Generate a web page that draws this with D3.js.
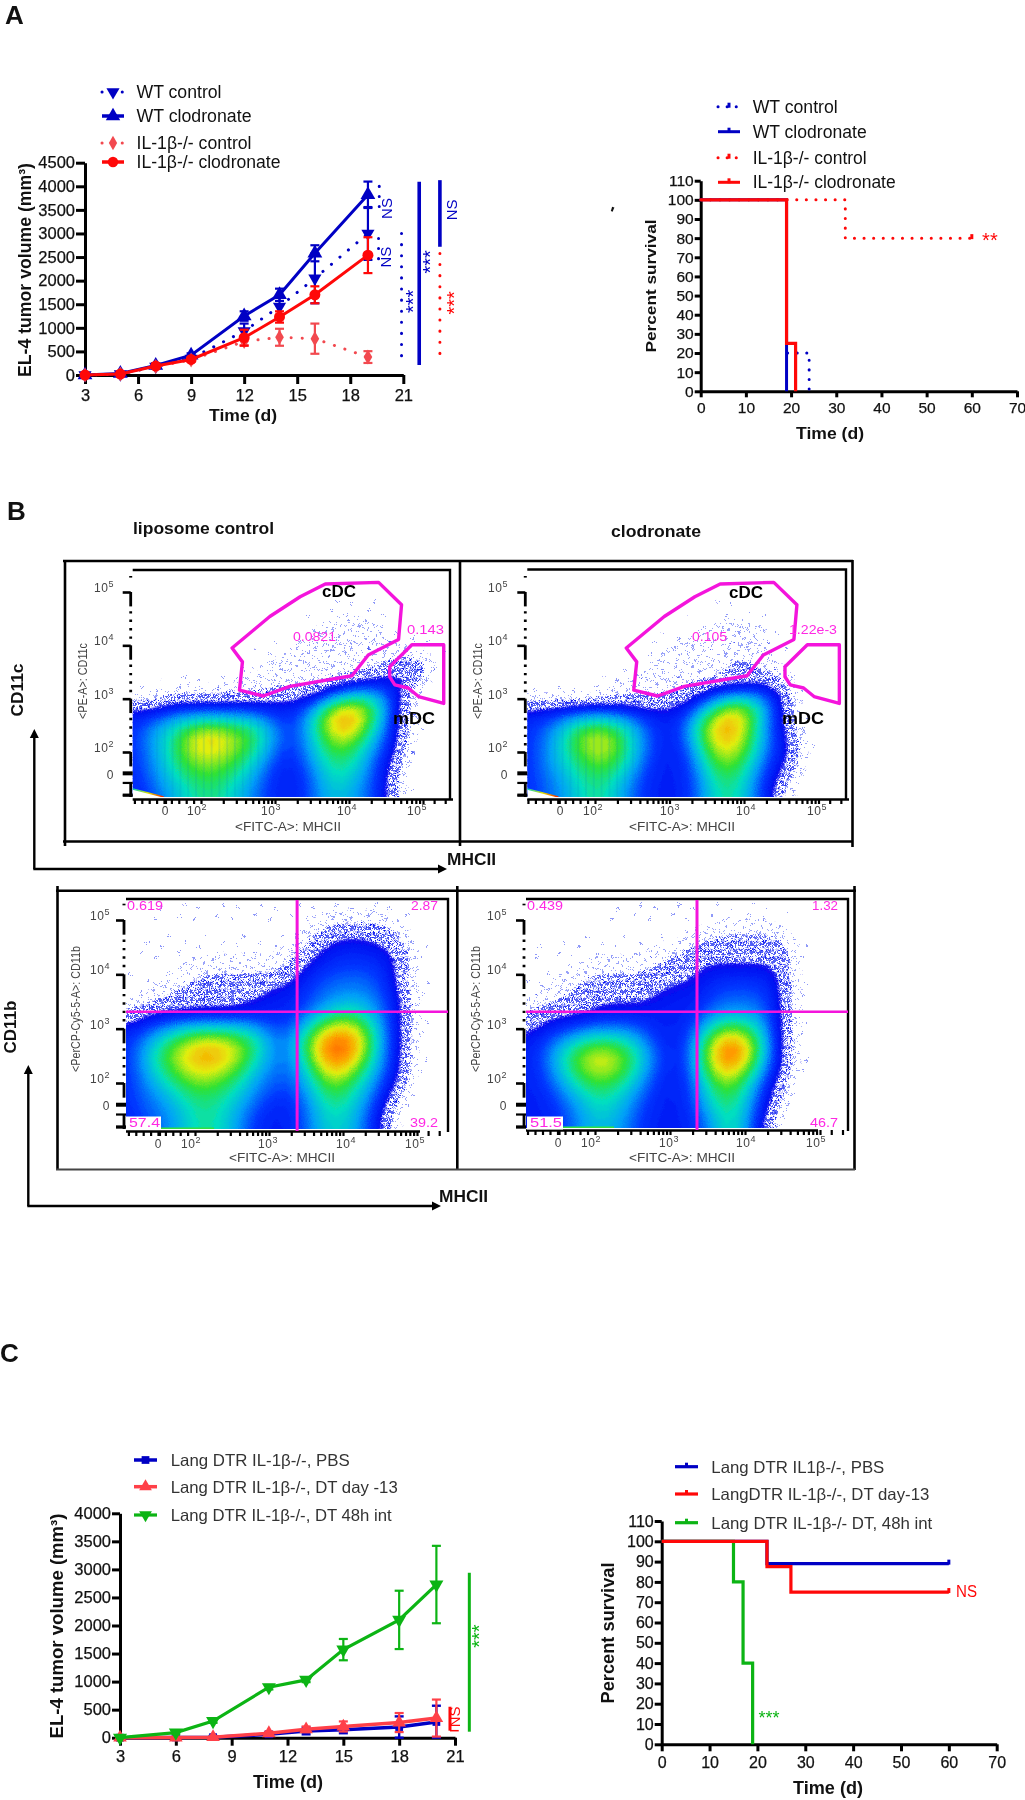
<!DOCTYPE html>
<html><head><meta charset="utf-8">
<script src="https://cdn.jsdelivr.net/npm/d3@7/dist/d3.min.js"></script>
<style>
html,body{margin:0;padding:0;background:#fff}
svg{display:block;font-family:"Liberation Sans",Arial,sans-serif;filter:blur(0.4px)}
text{fill:#111}
</style></head><body>
<svg id="fig" width="1025" height="1800"></svg>
<script>
/* ---------- Panel A: tumor growth ---------- */
const daysA=[3,5,7,9,12,14,16,19];
const wtControl=[0,20,180,350,930,1450,2050,3000];
const wtControlErr=[0,15,40,40,160,220,530,560];
const wtClodronate=[0,30,200,420,1250,1700,2580,3820];
const wtClodronateErr=[0,20,50,40,100,130,170,280];
const ilControl=[0,20,180,320,710,800,770,380];
const ilControlErr=[0,15,30,30,80,180,320,125];
const ilClodronate=[0,20,190,330,790,1230,1700,2540];
const ilClodronateErr=[0,15,40,40,170,120,180,380];
/* ---------- Panel A: survival ---------- */
const survWtControl=[[0,100],[19,100],[19,20],[24,20],[24,0]];
const survWtClodronate=[[0,100],[19,100],[19,25],[19,0]];
const survIlControl=[[0,100],[32,100],[32,80],[60,80]];
const survIlClodronate=[[0,100],[19,100],[19,25],[21,25],[21,0]];
/* ---------- Panel C: tumor growth ---------- */
const daysC=[3,6,8,11,13,15,18,20];
const langPbs=[0,5,10,60,120,140,190,280];
const langPbsErr=[0,10,20,40,60,60,190,290];
const langDay13=[0,3,10,80,150,200,270,350];
const langDay13Err=[0,10,15,30,50,90,170,330];
const langDt48=[0,90,295,900,1030,1570,2100,2730];
const langDt48Err=[0,20,30,40,40,190,520,690];
/* ---------- Panel C: survival ---------- */
const survLangPbs=[[0,100],[22,100],[22,89],[60,89]];
const survLangDay13=[[0,100],[22,100],[22,87.5],[27,87.5],[27,75],[60,75]];
const survLangDt48=[[0,100],[15,100],[15,80],[17,80],[17,40],[19,40],[19,0]];
/* ---------- tick lists ---------- */
const timeTicks=[3,6,9,12,15,18,21];
const volumeTicksA=d3.range(0,4501,500);
const volumeTicksC=d3.range(0,4001,500);
const survivalXTicks=d3.range(0,71,10);
const survivalYTicks=d3.range(0,111,10);
/* ---------- Panel B: flow-cytometry density levels
   . very sparse, 1 sparse, 2 dense dots, 3 navy, 4 blue, 5 azure, 6 cyan, 7 green, 8 yellow, 9 orange, a red */
const densityLiposomeCD11c=[
"0","0","0","0",
"00000000000000000001111111",
"000000000000000000111111111",
"000000000000000001111111111",
"000000000000000011111111111",
"0000000000000011111111111110011",
"000000000000111111111111111232100",
"000000000001111111111111113343100",
"000000000011111111111122233331",
"00011111111111111111233344321",
"11112222222222333334677876421",
"33333333333333333457899875321",
"344556666666654334679a9875321",
"34556778887776543467898764321",
"34556789988776543456787654321",
"34556788887765433456776644321",
"3445677777766543345666654331",
"3445667777665433334566654321",
"3445566676655433334566544321",
"3344556666554433334555544321",
"3344556666554433334555544321"];
const densityClodronateCD11c=[
"0","0","0","0",
"00000000000000000001111",
"0000000000000000011111111",
"00000000000000001111111111",
"00000000000000111111111111",
"00000000000011111111111111",
"000000000000111111112221110",
"000000000011111111112222111",
"000000000111111111111111221",
"0000000011111111122222233321",
"1111111111111122234567765321",
"3333333333333333345788865321",
"34445666665443334678a9864321",
"3445677877654333478998754321",
"34456788876543334678987653321",
"34456778876543333578887543321",
"3455667777654333356777654332",
"3445566776543333346777643321",
"3444566665543333345666543321",
"344455666544333334566654321",
"344455666544333334566654321"];
const densityLiposomeCD11b=[
"00000000.......................",
"00..........................",
"00..................11111111",
"00................11222222221",
"0.................12233332221.",
"0................1223333333221",
"0.....111111111112233333333321",
"......111111111112333444443321",
"0...1112222222222334444444321",
"...111222222223333344444444321",
".11122222222223333444555544321",
"112222222222333333444555544321",
"223333333333333333456777654321",
"344455666666654444678888754321",
"344567788887775444789aa9864321",
"34567788998876544578aaa975432.",
"345678899988765444689a98754321",
"34566788887765444457888765432",
"344566777776554444567876544321",
"34455667766654443446776654321",
"34445566666554433445666554321",
"3444455666554433334566654321",
"3344455666554333334556554321",
"3344455666554333334556554321"];
const densityClodronateCD11b=[
"0000000000................",
"000000................",
"0000000000...........11111",
"0000..............111111111.",
"0...............112222222221",
"0.............11122222222221",
"0.....1111111122222222222221",
"0...111111111222233333333321",
"0..1112222222222223333333321",
".111222222222233333444444321",
".111111222222333333444444321",
"1222222333333333334444444321",
"1223333333333333334555555321",
"2333334444444333345777764321",
"3344556666654333357899875321",
"33456778877654333578aa975321",
"33456788887654333579aa875321",
"3345677887765433357898764321",
"3344567777654333346777653321",
"333455666655433334577764321",
"333445566554433334567654321",
"333344566554333334566654321",
"33334455554433333345665321",
"33334455554433333345665321"];
/* decade ticks of the flow axes */
const flowMajorDecades=[2,3,4,5];
const flowZeroDecade=1.52;
/* gates in axis decades */
const gateCDC=[[2.42,3.95],[2.56,3.69],[2.52,3.16],[2.84,3.05],[3.2,3.23],[4.04,3.43],[4.26,3.82],[4.67,4.11],[4.71,4.76],[4.4,5.18],[3.68,5.15],[3.34,4.91],[2.93,4.54]];
const gateMDC=[[4.55,3.6],[4.85,4.01],[5.28,4.01],[5.28,2.91],[4.94,3.04],[4.8,3.2],[4.62,3.26],[4.55,3.41]];
const quadGateX=[3.38,3.36];
const quadGateY=3.31;

/* ---------- shared ---------- */
const BLUE="#0000c4",RED="#ff0808",SALMON="#f2494f",LRED="#ff4048",GREEN="#0cb414",MAG="#f414dc";
const svg=d3.select("#fig");
const defs=svg.append("defs");

function addDotPattern(id,size,dots,r){
  const p=defs.append("pattern").attr("id",id).attr("patternUnits","userSpaceOnUse").attr("width",size).attr("height",size);
  dots.forEach(([x,y])=>p.append("circle").attr("cx",x).attr("cy",y).attr("r",r).attr("fill","#0010f0"));
}
addDotPattern("vsparse",38,[[4,7],[27,3],[16,24],[33,31],[9,34]],.8);
addDotPattern("sparse",18,[[2,3],[9,1],[15,6],[6,9],[12,12],[17,14],[3,15],[9,17]],.78);
addDotPattern("dense",8,[[1,1],[4,2],[7,1],[2.5,4.5],[5.5,5],[1,7],[4,7.5],[7,7]],.9);
function addGrain(id,blur,scale,seed){
  const f=defs.append("filter").attr("id",id).attr("x","-5%").attr("y","-5%").attr("width","110%").attr("height","110%");
  f.append("feTurbulence").attr("type","fractalNoise").attr("baseFrequency",.85).attr("numOctaves",2).attr("seed",seed).attr("result","n");
  if(blur>0)f.append("feGaussianBlur").attr("in","SourceGraphic").attr("stdDeviation",blur).attr("result","s");
  f.append("feDisplacementMap").attr("in",blur>0?"s":"SourceGraphic").attr("in2","n").attr("scale",scale).attr("xChannelSelector","R").attr("yChannelSelector","G");
}
addGrain("grainDots",0,9,3);
addGrain("grainSolid",.9,6,7);
{
  const p=defs.append("pattern").attr("id","stripes").attr("patternUnits","userSpaceOnUse").attr("width",7.8).attr("height",20);
  p.append("rect").attr("width",2).attr("height",20).attr("fill","#0090c0").attr("opacity",.16);
  const lg=defs.append("linearGradient").attr("id","wedge");
  lg.append("stop").attr("offset",0).attr("stop-color","#00d0c0");
  lg.append("stop").attr("offset",.5).attr("stop-color","#e0e000");
  lg.append("stop").attr("offset",1).attr("stop-color","#f02000");
}

function txt(g,x,y,s,o={}){
  const t=g.append("text").attr("x",x).attr("y",y).text(s)
   .attr("font-size",o.size||16).attr("font-weight",o.weight||"normal")
   .attr("text-anchor",o.anchor||"start").attr("dominant-baseline","central");
  if(o.fill)t.style("fill",o.fill);
  if(o.len)t.attr("textLength",o.len).attr("lengthAdjust","spacingAndGlyphs");
  if(o.rot!==undefined)t.attr("transform",`rotate(${o.rot} ${x} ${y})`);
  if(o.family)t.style("font-family",o.family);
  return t;
}
function axes(g,x,y,xt,yt,size,tick){
  const ax=g.append("g").attr("transform",`translate(0,${y.range()[0]})`)
    .call(d3.axisBottom(x).tickValues(xt).tickSize(tick).tickSizeOuter(0).tickPadding(5).tickFormat(d3.format("d")));
  const ay=g.append("g").attr("transform",`translate(${x.range()[0]},0)`)
    .call(d3.axisLeft(y).tickValues(yt).tickSize(tick).tickSizeOuter(0).tickPadding(1).tickFormat(d3.format("d")));
  [ax,ay].forEach(a=>{
    a.selectAll("path,line").attr("stroke","#000").attr("stroke-width",3);
    a.selectAll("text").attr("font-size",size).attr("font-family","Liberation Sans").attr("stroke","#111").attr("stroke-width",.25);
  });
}
function marker(g,cx,cy,kind,color,size){
  const s=kind==="circle"?d3.symbolCircle:kind==="diamond"?d3.symbolDiamond:kind==="square"?d3.symbolSquare:d3.symbolTriangle;
  g.append("path").attr("d",d3.symbol(s,size)()).attr("fill",color)
   .attr("transform",`translate(${cx},${cy})${kind==="down"?" rotate(180)":""}`);
}
function growth(g,x,y,days,s){
  const line=d3.line().x((d,i)=>x(days[i])).y(d=>y(d));
  const gs=g.append("g");
  s.errs.forEach((e,i)=>{
    if(!e)return;
    const cx=x(days[i]),hi=y(s.vals[i]+e),lo=y(Math.max(0,s.vals[i]-e));
    const b=gs.append("g").attr("stroke",s.color).attr("stroke-width",s.ew||2.2);
    b.append("line").attr("x1",cx).attr("x2",cx).attr("y1",hi).attr("y2",lo);
    [hi,lo].forEach(v=>b.append("line").attr("x1",cx-4.5).attr("x2",cx+4.5).attr("y1",v).attr("y2",v));
  });
  gs.append("path").attr("d",line(s.vals)).attr("fill","none").attr("stroke",s.color)
    .attr("stroke-width",s.w||3).attr("stroke-dasharray",s.dash||null).attr("stroke-linecap",s.dash?"round":"butt");
  s.vals.forEach((v,i)=>marker(gs,x(days[i]),y(v),s.kind,s.color,s.size||80));
}
function survival(g,x,y,s){
  const line=d3.line().x(d=>x(d[0])).y(d=>y(d[1]));
  g.append("path").attr("d",line(s.pts)).attr("fill","none").attr("stroke",s.color).attr("stroke-width",s.w||3)
   .attr("stroke-dasharray",s.dash||null).attr("stroke-linecap",s.dash?"round":"butt").attr("stroke-linejoin","miter");
  if(s.censor!==undefined){
    const L=s.pts[s.pts.length-1];
    g.append("line").attr("x1",x(L[0])).attr("x2",x(L[0])).attr("y1",y(L[1])-4).attr("y2",y(L[1])+1).attr("stroke",s.color).attr("stroke-width",3);
  }
}
function legend(g,x0,x1,tx,items,fs,col){
  items.forEach(it=>{
    g.append("line").attr("x1",x0).attr("x2",x1).attr("y1",it.y).attr("y2",it.y).attr("stroke",it.color)
      .attr("stroke-width",it.w||3).attr("stroke-dasharray",it.dash||null).attr("stroke-linecap",it.dash?"round":"butt");
    if(it.kind)marker(g,(x0+x1)/2,it.y,it.kind,it.color,it.size||75);
    if(it.bump)g.append("line").attr("x1",(x0+x1)/2).attr("x2",(x0+x1)/2).attr("y1",it.y-4).attr("y2",it.y+1).attr("stroke",it.color).attr("stroke-width",3);
    txt(g,tx,it.y,it.label,{size:fs,len:it.len,fill:col});
  });
}
function vbar(g,x,y,s){
  g.append("line").attr("x1",x(s.x)).attr("x2",x(s.x)).attr("y1",y(s.from)).attr("y2",y(s.to))
   .attr("stroke",s.color).attr("stroke-width",s.w||3).attr("stroke-dasharray",s.dash||null).attr("stroke-linecap",s.dash?"round":"butt");
}
function rotLabel(g,x,y,s){ txt(g,x(s.x),y(s.v),s.t,{size:s.size||15,anchor:"middle",rot:-90,fill:s.color,len:s.len}); }

/* ---------- Panel letters ---------- */
const L=svg.append("g");
txt(L,5,15,"A",{size:26,weight:"bold"});
txt(L,7,511,"B",{size:26,weight:"bold"});
txt(L,0,1353,"C",{size:26,weight:"bold"});

/* ---------- A left ---------- */
{
  const g=svg.append("g");
  const x=d3.scaleLinear([3,21],[85,403.3]), y=d3.scaleLinear([0,4500],[375,162.7]);
  axes(g,x,y,timeTicks,volumeTicksA,16.5,9);
  const dotted="0.1 11";
  growth(g,x,y,daysA,{vals:wtControl,errs:wtControlErr,color:BLUE,kind:"down",dash:dotted,size:75});
  growth(g,x,y,daysA,{vals:wtClodronate,errs:wtClodronateErr,color:BLUE,kind:"tri",size:95});
  growth(g,x,y,daysA,{vals:ilControl,errs:ilControlErr,color:SALMON,kind:"diamond",dash:dotted,size:65});
  growth(g,x,y,daysA,{vals:ilClodronate,errs:ilClodronateErr,color:RED,kind:"circle",size:95});
  const bars=[
   {x:19.64,from:4000,to:3400,color:BLUE,dash:"0.1 10"},
   {x:19.6,from:2895,to:2260,color:BLUE,dash:"0.1 10"},
   {x:20.9,from:3000,to:350,color:BLUE,dash:"0.1 11"},
   {x:21.9,from:4095,to:210,color:BLUE,w:3.6},
   {x:23.07,from:4130,to:2718,color:BLUE,w:3.6},
   {x:23.07,from:2577,to:318,color:RED,dash:"0.1 11"}];
  bars.forEach(b=>vbar(g,x,y,b));
  [{x:20.05,v:3530,t:"NS",color:BLUE},{x:19.98,v:2500,t:"NS",color:BLUE},{x:23.75,v:3500,t:"NS",color:BLUE},
   {x:21.55,v:1560,t:"***",color:BLUE,size:20},{x:22.5,v:2400,t:"***",color:BLUE,size:20},{x:23.85,v:1530,t:"***",color:RED,size:20}]
   .forEach(s=>rotLabel(g,x,y,s));
  legend(g,102,124,136.5,[
   {y:92,color:BLUE,dash:"0.1 10",kind:"down",label:"WT control",len:85},
   {y:116,color:BLUE,kind:"tri",w:3.5,label:"WT clodronate",len:115,size:90},
   {y:143,color:SALMON,dash:"0.1 10",kind:"diamond",label:"IL-1β-/- control",len:115,size:60},
   {y:162,color:RED,w:3.5,kind:"circle",label:"IL-1β-/- clodronate",len:144,size:85}],17.5);
  txt(g,25,270,"EL-4 tumor volume (mm³)",{size:17.5,weight:"bold",anchor:"middle",rot:-90,len:214});
  txt(g,243,415,"Time (d)",{size:16.5,weight:"bold",anchor:"middle",len:68});
}
/* ---------- A right ---------- */
{
  const g=svg.append("g");
  const x=d3.scaleLinear([0,70],[700.7,1017]), y=d3.scaleLinear([0,110],[391.3,180.7]);
  axes(g,x,y,survivalXTicks,survivalYTicks,15.5,6);
  survival(g,x,y,{pts:survWtControl,color:BLUE,dash:"0.1 9.5"});
  survival(g,x,y,{pts:survWtClodronate,color:BLUE,w:3});
  survival(g,x,y,{pts:survIlControl,color:RED,dash:"0.1 9.5",censor:1});
  survival(g,x,y,{pts:survIlClodronate,color:RED,w:3.2});
  txt(g,x(64),y(79),"**",{size:20,anchor:"middle",fill:RED});
  legend(g,718,740,752.7,[
   {y:106.7,color:BLUE,dash:"0.1 9",bump:1,label:"WT control",len:85},
   {y:131.7,color:BLUE,w:3,bump:1,label:"WT clodronate",len:114},
   {y:157.7,color:RED,dash:"0.1 9",bump:1,label:"IL-1β-/- control",len:114},
   {y:182.3,color:RED,w:3,bump:1,label:"IL-1β-/- clodronate",len:143}],17.5);
  txt(g,650.7,286,"Percent survival",{size:15.5,weight:"bold",anchor:"middle",rot:-90,len:133});
  txt(g,830,433,"Time (d)",{size:16.5,weight:"bold",anchor:"middle",len:68});
  txt(g,611,213,"'",{size:18,weight:"bold",anchor:"middle",rot:20});
}

/* ---------- Panel B flow plots ---------- */
const stipple=[[.3,"url(#vsparse)"],[.8,"url(#sparse)"],[1.5,"url(#dense)"]];
const heat=d3.scaleLinear([2.5,3.5,4.5,5.5,6.5,7.5,8.5,9.5],
  ["#0808f0","#0038ff","#00a0f8","#00dfc0","#30e230","#e2ee10","#ff9a00","#ff4a08"]).clamp(true);
const solidThresholds=d3.range(2.5,10,.2);
function parseGrid(rows){
  const v=[];
  rows.forEach(r=>{for(let i=0;i<32;i++){const c=r[i]||"0";v.push(c==="."?.5:parseInt(c,16));}});
  return v;
}
let clipId=0;
function flow(f){
  const g=svg.append("g");
  const gx=d3.scaleLinear([.5,31.5],[f.left,f.left+310]), gy=d3.scaleLinear([.5,23.5],[f.top,f.top+230]);
  const xd=d3.scaleLinear([2,5],f.xd), yd=d3.scaleLinear([2,5],f.yd);
  const h=f.grid.length;
  const values=parseGrid(f.grid);
  const soft=values.slice();
  d3.blur2({data:soft,width:32,height:h},.45,.45);
  const path=d3.geoPath(d3.geoTransform({point(a,b){this.stream.point(gx(a),gy(b));}}));
  const id="clip"+(clipId++);
  defs.append("clipPath").attr("id",id).append("rect").attr("x",f.left).attr("y",f.top+2).attr("width",f.right-f.left).attr("height",f.bottom-f.top-2);
  const clip=g.append("g").attr("clip-path",`url(#${id})`);
  const dots=clip.append("g").attr("filter","url(#grainDots)");
  const solid=clip.append("g").attr("filter","url(#grainSolid)");
  d3.contours().size([32,h]).thresholds(stipple.map(l=>l[0]))(soft).forEach((c,i)=>dots.append("path").attr("d",path(c)).attr("fill",stipple[i][1]));
  d3.contours().size([32,h]).thresholds(solidThresholds)(soft).forEach(c=>solid.append("path").attr("d",path(c)).attr("fill",heat(c.value)));
  if(f.stripes){
    const lim=f.xd[0]+ (f.xd[1]-f.xd[0])/3*1.0;
    const sid="sclip"+clipId;
    defs.append("clipPath").attr("id",sid).append("rect").attr("x",f.left+10).attr("y",f.top).attr("width",lim-f.left-10).attr("height",f.bottom-f.top);
    const c45=d3.contours().size([32,h]).thresholds([4])(soft)[0];
    clip.append("g").attr("clip-path",`url(#${sid})`).append("path").attr("d",path(c45)).attr("fill","url(#stripes)");
  }
  if(f.wedge){
    clip.append("path").attr("d",`M${f.left},${f.bottom-8}L${f.left+31},${f.bottom}H${f.left}Z`).attr("fill","#fff");
    clip.append("line").attr("x1",f.left).attr("y1",f.bottom-8).attr("x2",f.left+31).attr("y2",f.bottom).attr("stroke","url(#wedge)").attr("stroke-width",1.4);
  }
  if(f.baseline){
    clip.append("line").attr("x1",f.left+4).attr("x2",f.left+88).attr("y1",f.bottom-.8).attr("y2",f.bottom-.8).attr("stroke","#30e040").attr("stroke-width",1.6);
  }
  // frame lines of the plot
  const fr=d3.line();
  g.append("path").attr("d",fr([[f.left,f.top],[f.right,f.top],[f.right,f.bottom+3]])).attr("fill","none").attr("stroke","#000").attr("stroke-width",2.4);
  // bottom axis: dense minor ticks
  const minor=[];
  [1.1,1.2,1.3,1.4,1.5,1.52,1.6,1.7,1.8,1.9].forEach(d=>minor.push(d));
  [2,3,4].forEach(k=>d3.range(1,10).forEach(m=>minor.push(k+Math.log10(m))));
  minor.push(5,5.15,5.3);
  const ax=g.append("g").attr("transform",`translate(0,${f.bottom+2})`)
    .call(d3.axisBottom(xd).tickValues(minor.filter(d=>xd(d)>=f.left&&xd(d)<=f.right)).tickSize(5).tickSizeOuter(0).tickFormat(""));
  ax.select(".domain").attr("stroke","#000").attr("stroke-width",0);
  ax.selectAll("line").attr("stroke","#000").attr("stroke-width",2.2);
  g.append("line").attr("x1",f.left).attr("x2",f.axisEnd).attr("y1",f.bottom+2.5).attr("y2",f.bottom+2.5).attr("stroke","#000").attr("stroke-width",2.4);
  // left axis: major ticks, short bars, dotted minors
  const ay=g.append("g").attr("transform",`translate(${f.left-2},0)`)
    .call(d3.axisLeft(yd).tickValues(flowMajorDecades).tickSize(8).tickSizeOuter(0).tickFormat(""));
  ay.select(".domain").attr("stroke-width",0);
  ay.selectAll("line").attr("stroke","#000").attr("stroke-width",2.6);
  flowMajorDecades.forEach(k=>{
    g.append("line").attr("x1",f.left-2).attr("x2",f.left-2).attr("y1",yd(k)).attr("y2",yd(k-.27)).attr("stroke","#000").attr("stroke-width",2.8);
    if(k>2)g.append("line").attr("x1",f.left-2).attr("x2",f.left-2).attr("y1",yd(k-.36)).attr("y2",yd(k-.9)).attr("stroke","#000").attr("stroke-width",2.8).attr("stroke-dasharray","2.4 6");
  });
  g.append("line").attr("x1",f.left-2).attr("x2",f.left-2).attr("y1",yd(5.27)).attr("y2",yd(5.3)).attr("stroke","#000").attr("stroke-width",3);
  [1.6,1.42,1.2,1.18].forEach((d,i)=>{
    g.append("line").attr("x1",f.left-10).attr("x2",f.left).attr("y1",yd(d)).attr("y2",yd(d)).attr("stroke","#000").attr("stroke-width",i==0?4:2.2);
  });
  g.append("line").attr("x1",f.left-2).attr("x2",f.left-2).attr("y1",yd(1.42)).attr("y2",f.bottom).attr("stroke","#000").attr("stroke-width",2.8);
  // tick labels with superscripts
  const gray="#444";
  flowMajorDecades.forEach((k,i)=>{
    const tx=g.append("text").attr("x",f.xLab[i]).attr("y",f.bottom+f.xLabDy).attr("text-anchor","middle").attr("font-size",12).style("fill",gray).attr("letter-spacing",.6);
    tx.append("tspan").text("10"); tx.append("tspan").text(k).attr("font-size",9).attr("dy",-5);
    const ty=g.append("text").attr("x",f.yLabX).attr("y",yd(k)).attr("text-anchor","middle").attr("font-size",12).style("fill",gray).attr("letter-spacing",.6);
    ty.append("tspan").text("10"); ty.append("tspan").text(k).attr("font-size",9).attr("dy",-5);
  });
  txt(g,f.zeroX,f.bottom+f.xLabDy-4,"0",{size:12,anchor:"middle",fill:gray});
  txt(g,f.yLabX+6,yd(flowZeroDecade)-3,"0",{size:12,anchor:"middle",fill:gray});
  txt(g,f.xTitle[0],f.xTitle[1],"<FITC-A>: MHCII",{size:12,anchor:"middle",fill:gray,len:106});
  txt(g,f.yTitle[0],f.yTitle[1],f.yLabel,{size:12,anchor:"middle",fill:gray,rot:-90,len:f.yLen});
  // gates
  const poly=d3.line().x(d=>xd(d[0])).y(d=>yd(d[1]));
  if(f.gates) f.gates.forEach(p=>g.append("path").attr("d",poly(p)+"Z").attr("fill","none").attr("stroke",MAG).attr("stroke-width",3.4).attr("stroke-linejoin","round"));
  if(f.quad!==undefined){
    const qx=xd(f.quad), qy=yd(quadGateY);
    g.append("line").attr("x1",qx).attr("x2",qx).attr("y1",f.top+1).attr("y2",f.bottom+2).attr("stroke",MAG).attr("stroke-width",3);
    g.append("line").attr("x1",f.left).attr("x2",f.right).attr("y1",qy).attr("y2",qy).attr("stroke",MAG).attr("stroke-width",2.6);
  }
  // labels
  (f.labels||[]).forEach(l=>{
    if(l.box) g.append("rect").attr("x",l.x-3).attr("y",l.y-6.5).attr("width",l.len+4).attr("height",13).attr("fill","#fff");
    txt(g,l.x,l.y,l.t,{size:l.size||12.5,weight:l.bold?"bold":"normal",fill:l.bold?"#000":"#ff28e4",len:l.len});
  });
}
flow({grid:densityLiposomeCD11c,left:132.7,right:450,top:570,bottom:797,axisEnd:453,xd:[201,423],yd:[752,592],stripes:1,wedge:1,
  gates:[gateCDC,gateMDC],xLab:[197,271,347,417],xLabDy:18,zeroX:165,yLabX:104,xTitle:[288,827],yTitle:[83,681],yLabel:"<PE-A>: CD11c",yLen:76,
  labels:[{t:"cDC",x:322,y:591,bold:1,size:16,len:34},{t:"mDC",x:393,y:718,bold:1,size:16,len:42},{t:"0.0821",x:293,y:637,len:43},{t:"0.143",x:407,y:630,len:37}]});
flow({grid:densityClodronateCD11c,left:527.3,right:846,top:569.5,bottom:797,axisEnd:849,xd:[595,818.5],yd:[752,592],stripes:1,wedge:1,
  gates:[gateCDC,gateMDC],xLab:[593,670,746,817],xLabDy:18,zeroX:560,yLabX:498,xTitle:[682,827],yTitle:[478,681],yLabel:"<PE-A>: CD11c",yLen:76,
  labels:[{t:"cDC",x:729,y:592,bold:1,size:16,len:34},{t:"mDC",x:782,y:718,bold:1,size:16,len:42},{t:"0.105",x:692,y:637,len:35},{t:"1.22e-3",x:789,y:630,len:48}]});
flow({grid:densityLiposomeCD11b,left:126,right:448,top:899,bottom:1129,axisEnd:420,xd:[195,417],yd:[1083,920],quad:quadGateX[0],baseline:1,
  xLab:[191,268,346,415],xLabDy:19,zeroX:158,yLabX:100,xTitle:[282,1158],yTitle:[76,1009],yLabel:"<PerCP-Cy5-5-A>: CD11b",yLen:126,
  labels:[{t:"0.619",x:127,y:906,len:36},{t:"2.87",x:411,y:906,len:27},{t:"57.4",x:129,y:1123,len:31,box:1},{t:"39.2",x:410,y:1123,len:28}]});
flow({grid:densityClodronateCD11b,left:526,right:848,top:899,bottom:1128,axisEnd:818,xd:[595,820],yd:[1083,920],quad:quadGateX[1],baseline:1,
  xLab:[591,669,746,816],xLabDy:19,zeroX:558,yLabX:497,xTitle:[682,1158],yTitle:[476,1009],yLabel:"<PerCP-Cy5-5-A>: CD11b",yLen:126,
  labels:[{t:"0.439",x:527,y:906,len:36},{t:"1.32",x:812,y:906,len:26},{t:"51.5",x:530,y:1123,len:32,box:1},{t:"46.7",x:810,y:1123,len:28}]});

/* frames, arrows, titles of panel B */
{
  const g=svg.append("g");
  const seg=(a,b,c,d,w=2.6,col="#000")=>g.append("line").attr("x1",a).attr("y1",b).attr("x2",c).attr("y2",d).attr("stroke",col).attr("stroke-width",w);
  seg(63,561,853,561); seg(65,561,65,846); seg(460,561,460,846); seg(852.5,560,852.5,847); seg(63,841.5,853,841.5);
  seg(56,890.7,856,890.7); seg(57.5,886,57.5,1170); seg(457.3,886,457.3,1170); seg(854.5,886,854.5,1170); seg(56,1169.5,855,1169.5,1.8,"#444");
  const arrow=(x0,y0,yTop,xEnd)=>{
    seg(x0,yTop+6,x0,y0,2.4); seg(x0-1,y0,xEnd-6,y0,2.4);
    g.append("path").attr("d",`M${x0},${yTop}l-4.5,9h9z`).attr("fill","#000");
    g.append("path").attr("d",`M${xEnd},${y0}l-9,-4.5v9z`).attr("fill","#000");
  };
  arrow(34.3,869,729,447);
  arrow(28.3,1206,1065,441);
  txt(g,447,859,"MHCII",{size:16,weight:"bold",len:49});
  txt(g,439,1196,"MHCII",{size:16,weight:"bold",len:49});
  txt(g,17,690,"CD11c",{size:16,weight:"bold",anchor:"middle",rot:-90,len:53});
  txt(g,10,1027,"CD11b",{size:16,weight:"bold",anchor:"middle",rot:-90,len:53});
  txt(g,133,528,"liposome control",{size:16,weight:"bold",len:141});
  txt(g,611,531,"clodronate",{size:16,weight:"bold",len:90});
}

/* ---------- C left ---------- */
{
  const g=svg.append("g");
  const x=d3.scaleLinear([3,21],[120,455]), y=d3.scaleLinear([0,4000],[1737.7,1513.3]);
  axes(g,x,y,timeTicks,volumeTicksC,16.5,8);
  growth(g,x,y,daysC,{vals:langPbs,errs:langPbsErr,color:BLUE,kind:"square",size:60,w:3.5,ew:2.4});
  growth(g,x,y,daysC,{vals:langDay13,errs:langDay13Err,color:LRED,kind:"tri",size:80,w:3.5,ew:2.2});
  growth(g,x,y,daysC,{vals:langDt48,errs:langDt48Err,color:GREEN,kind:"down",size:85,w:3.2,ew:2.2});
  vbar(g,x,y,{x:20.73,from:552,to:125,color:RED,w:3});
  g.append("line").attr("x1",x(20.73)).attr("x2",x(21.2)).attr("y1",y(125)).attr("y2",y(125)).attr("stroke",RED).attr("stroke-width",1.5);
  rotLabel(g,x,y,{x:21.0,v:370,t:"NS",color:RED,size:15});
  vbar(g,x,y,{x:21.77,from:2940,to:107,color:GREEN,w:3});
  rotLabel(g,x,y,{x:22.3,v:1810,t:"***",color:GREEN,size:20});
  legend(g,134,157,170.7,[
   {y:1460,color:BLUE,w:3.5,kind:"square",label:"Lang DTR  IL-1β-/-, PBS",len:179,size:60},
   {y:1486.7,color:LRED,w:3.5,kind:"tri",label:"Lang DTR  IL-1β-/-, DT day -13",len:227,size:70},
   {y:1515,color:GREEN,w:3.2,kind:"down",label:"Lang DTR  IL-1β-/-, DT 48h int",len:221,size:70}],16.5,"#333");
  txt(g,57,1626,"EL-4 tumor volume (mm³)",{size:18,weight:"bold",anchor:"middle",rot:-90,len:225});
  txt(g,288,1781.7,"Time (d)",{size:18,weight:"bold",anchor:"middle",len:70});
}
/* ---------- C right ---------- */
{
  const g=svg.append("g");
  const x=d3.scaleLinear([0,70],[661.7,996.7]), y=d3.scaleLinear([0,110],[1744.3,1521]);
  axes(g,x,y,survivalXTicks,survivalYTicks,16,7);
  survival(g,x,y,{pts:survLangPbs,color:BLUE,w:3.2,censor:1});
  survival(g,x,y,{pts:survLangDt48,color:GREEN,w:3.2});
  survival(g,x,y,{pts:survLangDay13,color:RED,w:3.2,censor:1});
  txt(g,x(63.7),y(75.5),"NS",{size:16,anchor:"middle",fill:RED,len:21});
  txt(g,x(22.4),y(13),"***",{size:18,anchor:"middle",fill:GREEN});
  legend(g,675,698,711.3,[
   {y:1466.7,color:BLUE,w:3.2,bump:1,label:"Lang DTR IL1β-/-, PBS",len:173},
   {y:1494,color:RED,w:3.2,bump:1,label:"LangDTR IL-1β-/-, DT day-13",len:218},
   {y:1522.7,color:GREEN,w:3.2,bump:1,label:"Lang DTR  IL-1β-/- DT, 48h int",len:221}],16.5,"#333");
  txt(g,608,1633,"Percent survival",{size:18,weight:"bold",anchor:"middle",rot:-90,len:141});
  txt(g,828,1788,"Time (d)",{size:18,weight:"bold",anchor:"middle",len:70});
}
</script></body></html>
